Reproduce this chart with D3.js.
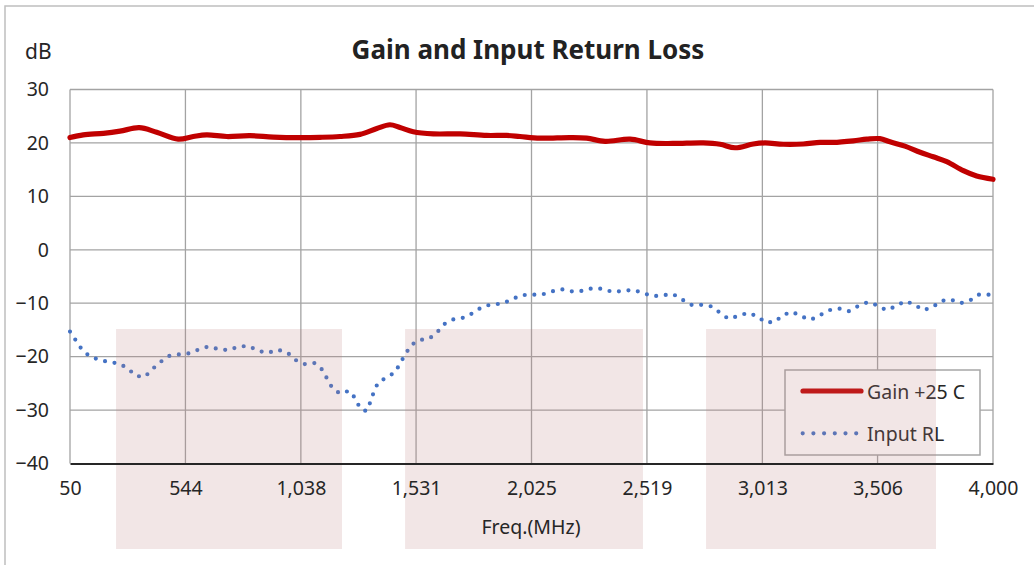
<!DOCTYPE html>
<html><head><meta charset="utf-8">
<script src="https://cdn.jsdelivr.net/npm/d3@7/dist/d3.min.js"></script>
<style>
html,body{margin:0;padding:0;background:#fff;}
svg{display:block;font-family:"Noto Sans",sans-serif;}
</style></head>
<body><svg id="chart" width="1034" height="565"></svg>
<script>
// ---- data ----
const xTicks = [50, 544, 1038, 1531, 2025, 2519, 3013, 3506, 4000];
const yTicks = [-40, -30, -20, -10, 0, 10, 20, 30];
const gainFreq = [50,107,193,264,346,421,513,578,635,721,820,920,1034,1120,1205,1291,1363,1419,1462,1519,1605,1719,1833,1919,1976,2061,2190,2261,2340,2447,2532,2632,2760,2832,2896,2974,3024,3103,3188,3260,3317,3402,3460,3516,3559,3623,3688,3744,3802,3873,3930,4000];
const gainVals = [21.0,21.5,21.8,22.2,22.85,22.0,20.7,21.2,21.5,21.2,21.35,21.1,21.0,21.05,21.2,21.6,22.7,23.4,22.9,22.1,21.7,21.7,21.4,21.4,21.2,20.9,21.0,20.9,20.3,20.7,20.0,19.9,20.0,19.75,19.1,19.8,20.0,19.75,19.8,20.1,20.1,20.4,20.7,20.8,20.2,19.4,18.25,17.4,16.5,14.8,13.8,13.2];
const rlFreq = [50,74,100,133,174,217,261,300,331,370,401,434,471,513,558,599,642,686,729,772,815,855,897,940,982,1014,1053,1097,1131,1151,1173,1205,1245,1273,1290,1317,1337,1350,1369,1405,1442,1463,1485,1508,1544,1589,1624,1655,1692,1736,1776,1813,1856,1900,1940,1980,2026,2069,2111,2156,2200,2242,2285,2328,2372,2417,2461,2503,2545,2588,2631,2669,2708,2753,2796,2832,2867,2910,2950,2990,3026,3067,3101,3141,3181,3221,3261,3299,3342,3384,3424,3464,3505,3543,3584,3623,3663,3700,3740,3776,3819,3860,3901,3938,3981,4000];
const rlVals = [-15.3,-16.9,-18.6,-19.9,-20.6,-21.0,-21.3,-22.3,-23.6,-23.8,-22.4,-21.1,-19.9,-19.6,-19.4,-18.7,-18.1,-18.6,-18.8,-18.1,-18.0,-18.9,-19.3,-18.7,-19.3,-20.6,-21.4,-21.2,-22.5,-24.2,-25.9,-26.9,-26.4,-27.9,-29.6,-30.2,-28.4,-26.6,-24.8,-23.9,-22.9,-21.2,-19.6,-17.9,-16.9,-16.6,-15.3,-13.8,-13.0,-12.7,-11.8,-10.7,-10.2,-10.1,-9.3,-8.5,-8.4,-8.4,-7.8,-7.4,-7.8,-7.7,-7.2,-7.3,-7.9,-7.7,-7.5,-8.1,-8.7,-8.5,-8.3,-9.3,-10.3,-10.3,-10.6,-11.8,-12.9,-12.4,-11.8,-12.4,-13.6,-13.5,-12.2,-11.6,-12.5,-13.1,-12.2,-11.3,-11.0,-11.5,-10.5,-9.8,-10.4,-11.3,-10.6,-9.6,-10.2,-11.3,-10.8,-9.6,-9.3,-10.0,-9.5,-8.4,-8.4,-8.3];
const bands = [[247, 1214], [1484, 2502], [2772, 3756]]; // MHz ranges of shaded bands
const seriesNames = ["Gain +25 C", "Input RL"];
const titleText = "Gain and Input Return Loss";
const yTitle = "dB";
const xTitle = "Freq.(MHz)";

// ---- drawing ----
const svg = d3.select("#chart");
const L = 70, R = 993, T = 89.5, B = 463.5;
const x = d3.scaleLinear().domain([50, 4000]).range([L, R]);
const y = d3.scaleLinear().domain([-40, 30]).range([B, T]);
const txt = "#262626";

// outer border
svg.append("rect").attr("x", 5).attr("y", 6).attr("width", 1100).attr("height", 700)
  .attr("fill", "none").attr("stroke", "#bfbfbf").attr("stroke-width", 1.5);

// gridlines
const grid = svg.append("g").attr("stroke", "#a3a3a3").attr("stroke-width", 1.3);
grid.selectAll(".v").data(xTicks).join("line")
  .attr("x1", d => x(d)).attr("x2", d => x(d)).attr("y1", T).attr("y2", B);
grid.selectAll(".h").data(yTicks.filter(v => v > -40)).join("line")
  .attr("x1", L).attr("x2", R).attr("y1", d => y(d)).attr("y2", d => y(d));

// series
const gainData = gainFreq.map((f, i) => [f, gainVals[i]]);
const rlData = rlFreq.map((f, i) => [f, rlVals[i]]);
const gLine = d3.line().x(d => x(d[0])).y(d => y(d[1])).curve(d3.curveCatmullRom.alpha(0.5));
const rLine = d3.line().x(d => x(d[0])).y(d => y(d[1])).curve(d3.curveLinear);

svg.append("path").datum(rlData).attr("d", rLine).attr("fill", "none")
  .attr("stroke", "#4472c4").attr("stroke-width", 4.2).attr("stroke-linecap", "round")
  .attr("stroke-dasharray", "0 9.6");
svg.append("path").datum(gainData).attr("d", gLine).attr("fill", "none")
  .attr("stroke", "#c00000").attr("stroke-width", 5.2).attr("stroke-linecap", "round")
  .attr("stroke-linejoin", "round");

// legend
const lg = svg.append("g");
lg.append("rect").attr("x", 785).attr("y", 370).attr("width", 195).attr("height", 85)
  .attr("fill", "#fff").attr("stroke", "#a6a6a6").attr("stroke-width", 1.5);
lg.append("line").attr("x1", 803).attr("x2", 861).attr("y1", 391).attr("y2", 391)
  .attr("stroke", "#c00000").attr("stroke-width", 5.2).attr("stroke-linecap", "round");
lg.append("line").attr("x1", 802.7).attr("x2", 857).attr("y1", 433.3).attr("y2", 433.3)
  .attr("stroke", "#4472c4").attr("stroke-width", 4.2).attr("stroke-linecap", "round")
  .attr("stroke-dasharray", "0 10.7");
lg.selectAll("text").data(seriesNames).join("text")
  .attr("x", 867).attr("y", (d, i) => 391 + i * 42.3).attr("dominant-baseline", "central")
  .attr("font-size", 19.5).attr("fill", txt).text(d => d);

// shaded bands (translucent overlay)
svg.append("g").selectAll("rect").data(bands).join("rect")
  .attr("x", d => x(d[0])).attr("width", d => x(d[1]) - x(d[0]))
  .attr("y", 329).attr("height", 220)
  .attr("fill", "rgb(190,130,130)").attr("fill-opacity", 0.2);

// axes
const xAxis = svg.append("g").attr("transform", `translate(0,${B})`)
  .call(d3.axisBottom(x).tickValues(xTicks).tickSize(0).tickPadding(18).tickFormat(d3.format(",")));
xAxis.select(".domain").attr("stroke", "#262626").attr("stroke-width", 2);
xAxis.selectAll("text").attr("font-size", 19.5).attr("fill", txt).attr("font-family", "Noto Sans");

const yAxis = svg.append("g").attr("transform", `translate(${L},0)`)
  .call(d3.axisLeft(y).tickValues(yTicks).tickSize(0).tickPadding(21));
yAxis.select(".domain").remove();
yAxis.selectAll("text").attr("font-size", 19.5).attr("fill", txt).attr("font-family", "Noto Sans");

// titles
svg.append("text").attr("x", 528).attr("y", 49).attr("text-anchor", "middle")
  .attr("dominant-baseline", "central").attr("font-weight", "bold").attr("font-size", 26)
  .attr("fill", "#222").text(titleText);
svg.append("text").attr("x", 25).attr("y", 59)
  .attr("font-size", 21).attr("fill", txt).text(yTitle);
svg.append("text").attr("x", 531).attr("y", 526).attr("text-anchor", "middle")
  .attr("dominant-baseline", "central").attr("font-size", 19.5).attr("fill", txt).text(xTitle);
</script></body></html>
